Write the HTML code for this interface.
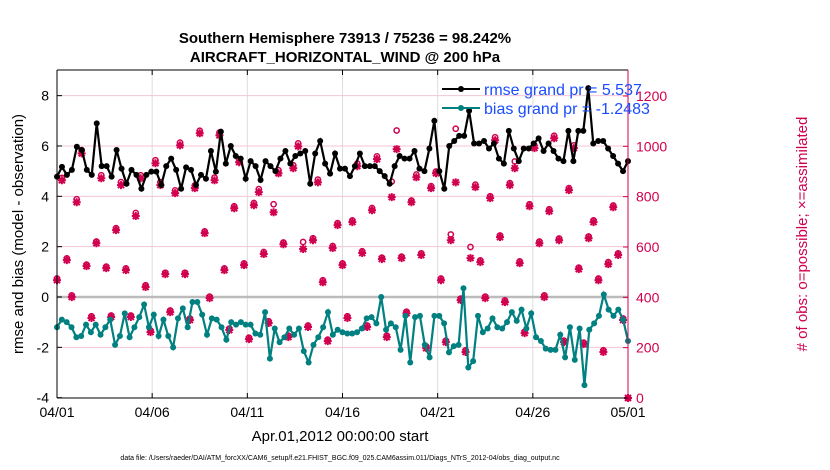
<!DOCTYPE html>
<html><head><meta charset="utf-8"><style>
body{margin:0;background:#fff;width:830px;height:470px;overflow:hidden;font-family:"Liberation Sans",sans-serif}
svg{display:block}
</style></head><body>
<svg id="chart" width="830" height="470" font-family="Liberation Sans, sans-serif">
<g id="grid"></g>
<g id="marks"></g>
<g id="axes"></g>
<text x="345" y="43" text-anchor="middle" font-size="15" font-weight="bold">Southern Hemisphere 73913 / 75236 = 98.242%</text>
<text x="345" y="62" text-anchor="middle" font-size="15" font-weight="bold">AIRCRAFT_HORIZONTAL_WIND @ 200 hPa</text>
<text x="340" y="441" text-anchor="middle" font-size="15">Apr.01,2012 00:00:00 start</text>
<text x="340" y="460" text-anchor="middle" font-size="7">data file: /Users/raeder/DAI/ATM_forcXX/CAM6_setup/f.e21.FHIST_BGC.f09_025.CAM6assim.011/Diags_NTrS_2012-04/obs_diag_output.nc</text>
<text transform="translate(23,234) rotate(-90)" text-anchor="middle" font-size="15">rmse and bias (model - observation)</text>
<text transform="translate(807,234) rotate(-90)" text-anchor="middle" font-size="15" fill="#d1004f"># of obs: o=possible; ×=assimilated</text>
<g>
<line x1="442" y1="89" x2="480" y2="89" stroke="#000" stroke-width="2"/><circle cx="461" cy="89" r="3" fill="#000"/>
<text x="484" y="95" font-size="16" fill="#1a4dff">rmse grand pr = 5.537</text>
<line x1="442" y1="108" x2="480" y2="108" stroke="#008080" stroke-width="2"/><circle cx="461" cy="108" r="3" fill="#008080"/>
<text x="484" y="114" font-size="16" fill="#1a4dff">bias grand pr = -1.2483</text>
</g>
</svg>
<script>
const rmse=[4.78,5.17,4.85,5.05,5.97,5.84,5.05,4.85,6.9,5.2,5.2,4.78,5.84,5.1,4.5,5.05,4.85,4.3,4.85,4.98,4.98,4.45,5.2,5.5,5.05,4.3,5.15,5.05,4.45,4.85,4.7,5.8,4.98,6.57,5.3,6.0,5.6,5.5,4.7,
5.4,5.2,4.65,5.4,5.2,5.0,5.5,5.8,5.3,5.6,5.7,5.8,4.5,5.7,6.2,5.3,4.9,5.7,5.1,5.1,4.8,5.2,5.7,5.2,5.2,5.2,5.0,4.8,4.5,5.2,5.6,5.5,5.5,5.8,5.1,5.0,5.9,7.0,
5.0,4.3,6.0,6.2,6.4,6.4,7.4,6.1,6.1,6.2,5.9,6.1,5.5,5.3,6.6,5.9,5.4,5.9,5.9,6.1,6.3,5.8,6.1,5.8,5.5,5.4,6.6,5.4,6.6,6.6,8.3,6.1,6.2,6.2,5.9,5.6,5.3,5.0,5.4];
const bias=[-1.2,-0.9,-1.0,-1.2,-1.6,-1.55,-1.1,-1.4,-1.1,-1.5,-1.2,-0.9,-1.9,-1.55,-0.65,-1.6,-1.2,-0.8,-0.3,-1.2,-0.7,-1.55,-0.9,-1.55,-2.0,-0.85,-0.45,-1.2,-0.2,-0.2,-0.7,-1.5,-0.85,-0.9,-1.2,-1.7,-1.0,-1.1,
-1.0,-1.1,-1.1,-1.45,-1.5,-0.6,-2.45,-1.25,-1.8,-1.6,-1.25,-1.5,-1.25,-2.15,-2.6,-1.9,-1.6,-1.2,-0.6,-1.5,-1.3,-1.4,-1.45,-1.45,-1.4,-1.25,-0.85,-0.8,-1.05,0.0,-1.3,-1.05,-1.2,-2.1,-0.75,-2.6,-0.8,-0.75,
-1.9,-2.4,-0.75,-0.75,-1.05,-2.2,-1.95,-1.9,0.35,-2.8,-2.55,-0.75,-1.4,-1.25,-0.85,-1.2,-1.25,-1.0,-0.6,-0.95,-0.5,-1.25,-0.65,-1.6,-1.75,-2.05,-2.1,-2.1,-1.5,-2.4,-1.2,-2.5,-1.25,-3.5,-1.3,-1.05,-0.75,0.1,-0.5,-0.75,-0.5,-0.9,-1.75];
const assimilated=[468,865,548,401,778,972,524,318,615,873,516,322,667,846,508,322,723,873,441,262,933,846,492,341,814,1004,492,310,834,1052,655,397,865,1044,508,270,754,937,528,
234,766,818,572,298,738,893,611,242,913,1000,592,282,627,857,460,226,596,687,528,318,699,921,576,282,746,949,552,242,798,989,556,337,778,877,568,198,834,893,468,222,627,857,389,183,556,838,540,397,794,1024,639,381,846,913,536,258,762,993,615,401,742,1032,627,222,826,993,512,214,635,699,468,183,532,758,568,310,0];
const possible=[475,875,555,408,790,985,530,325,622,885,522,328,675,858,515,328,735,885,448,268,945,858,498,348,825,1015,498,316,845,1062,662,403,876,1055,515,276,762,948,535,
240,775,830,580,305,770,905,618,248,925,1012,620,288,635,868,468,232,604,695,535,325,706,932,583,288,755,960,558,248,860,1063,562,343,785,888,575,205,842,900,475,228,650,1070,395,190,600,848,547,403,802,1036,646,388,854,940,543,264,770,1004,622,408,750,1042,634,228,834,1004,518,220,642,706,475,190,540,765,575,316,0];
const xTicks=['04/01','04/06','04/11','04/16','04/21','04/26','05/01'];
const xTickDays=[0,5,10,15,20,25,30];
const yLeftTicks=[-4,-2,0,2,4,6,8];
const yRightTicks=[0,200,400,600,800,1000,1200];

const NS='http://www.w3.org/2000/svg';
const X0=57,X1=628,Y0=70,Y1=398;
const xs=d=>X0+d*(X1-X0)/30;
const yL=v=>297-v*25.17;
const yR=n=>Y1-n*(Y1-96)/1200;
const dayOf=(i,n)=>i*30/(n-1);
function mk(tag,attrs,parent){const e=document.createElementNS(NS,tag);for(const k in attrs)e.setAttribute(k,attrs[k]);parent.appendChild(e);return e;}
const grid=document.getElementById('grid'),marks=document.getElementById('marks'),axes=document.getElementById('axes');
mk('rect',{x:X0,y:Y0,width:X1-X0,height:Y1-Y0,fill:'#fff'},grid);
xTickDays.forEach((d,i)=>{
  if(d>0&&d<30){const l=mk('line',{x1:xs(d),x2:xs(d),y1:Y0,y2:Y1,stroke:'#ddd','stroke-width':1},grid);
  
  }
  const t=mk('text',{x:xs(d),y:417,'text-anchor':'middle','font-size':14},axes);t.textContent=xTicks[i];
  
  
  mk('line',{x1:xs(d),x2:xs(d),y1:Y1,y2:Y1-5,stroke:'#000'},axes);
  mk('line',{x1:xs(d),x2:xs(d),y1:Y0,y2:Y0+5,stroke:'#000'},axes);
});
yLeftTicks.forEach(v=>{
  if(v!==0&&v!==-4){const l=mk('line',{x1:X0,x2:X1,y1:yL(v),y2:yL(v),stroke:'#f3c6d6','stroke-width':1},grid);
  
  }
  const t=mk('text',{x:X0-8,y:yL(v)+5,'text-anchor':'end','font-size':14},axes);t.textContent=v;
  
  
  mk('line',{x1:X0,x2:X0+5,y1:yL(v),y2:yL(v),stroke:'#000'},axes);
});
const z=mk('line',{x1:X0,x2:X1,y1:yL(0),y2:yL(0),stroke:'#bbb','stroke-width':2.5},grid);


yRightTicks.forEach(n=>{
  const t=mk('text',{x:X1+8,y:yR(n)+5,'font-size':14,fill:'#d1004f'},axes);t.textContent=n;
  
  
  mk('line',{x1:X1,x2:X1-5,y1:yR(n),y2:yR(n),stroke:'#d1004f'},axes);
});
mk('line',{x1:X0,x2:X1,y1:Y0,y2:Y0,stroke:'#000'},axes);
mk('line',{x1:X0,x2:X1,y1:Y1,y2:Y1,stroke:'#000'},axes);
mk('line',{x1:X0,x2:X0,y1:Y0,y2:Y1,stroke:'#000'},axes);
mk('line',{x1:X1,x2:X1,y1:Y0,y2:Y1,stroke:'#d1004f'},axes);
// obs counts
possible.forEach((n,i)=>{
  const c=mk('circle',{cx:xs(dayOf(i,possible.length)),cy:yR(n),r:2.6,fill:'none',stroke:'#d1004f','stroke-width':1.5},marks);
  
  
});
assimilated.forEach((n,i)=>{
  const x=xs(dayOf(i,assimilated.length)),y=yR(n),s=4;
  const p=mk('path',{d:`M${x-s},${y}H${x+s}M${x},${y-s}V${y+s}M${x-3},${y-3}L${x+3},${y+3}M${x-3},${y+3}L${x+3},${y-3}`,stroke:'#d1004f','stroke-width':2},marks);
  
  
});
function series(arr,color,name){
  const pts=arr.map((v,i)=>[xs(dayOf(i,arr.length)),yL(v)]);
  const pl=mk('polyline',{points:pts.map(p=>p.join(',')).join(' '),fill:'none',stroke:color,'stroke-width':2.2},marks);
  
  
  pts.forEach(p=>{const c=mk('circle',{cx:p[0],cy:p[1],r:3,fill:color},marks);
    
    });
}
series(rmse,'#000','rmse');
series(bias,'#008080','bias');
</script>
</body></html>
